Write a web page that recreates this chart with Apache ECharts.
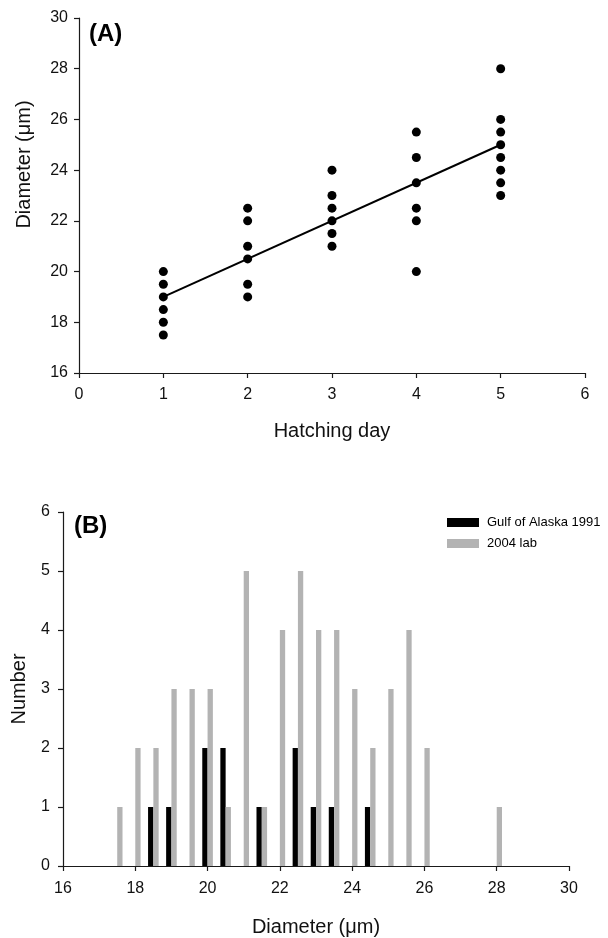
<!DOCTYPE html>
<html>
<head>
<meta charset="utf-8">
<script src="https://cdn.jsdelivr.net/npm/echarts@6/dist/echarts.min.js"></script>
<style>
html,body{margin:0;padding:0;background:#fff;}
#chart{width:608px;height:938px;}
</style>
</head>
<body>
<div id="chart"></div>
<script>
// Panel A data
var hatchDays = [1, 2, 3, 4, 5];
var diametersByDay = [
  [20, 19.5, 19, 18.5, 18, 17.5],
  [22.5, 22, 21, 20.5, 19.5, 19],
  [24, 23, 22.5, 22, 21.5, 21],
  [25.5, 24.5, 23.5, 22.5, 22, 20],
  [28, 26, 25.5, 25, 24.5, 24, 23.5, 23]
];
var fitDays = [1, 5];
var fitDiameters = [19, 25];

// Panel B data
var gulfBins = [18.5, 19, 20, 20.5, 21.5, 22.5, 23, 23.5, 24.5];
var gulfCounts = [1, 1, 2, 2, 1, 2, 1, 1, 1];
var labBins = [17.5, 18, 18.5, 19, 19.5, 20, 20.5, 21, 21.5, 22, 22.5, 23, 23.5, 24, 24.5, 25, 25.5, 26, 28];
var labCounts = [1, 2, 2, 3, 3, 3, 1, 5, 1, 4, 5, 4, 4, 3, 2, 3, 4, 2, 1];

var scatterData = [];
hatchDays.forEach(function (d, i) {
  diametersByDay[i].forEach(function (v) { scatterData.push([d, v]); });
});
var fitData = fitDays.map(function (d, i) { return [d, fitDiameters[i]]; });
var gulfData = gulfBins.map(function (b, i) { return [b, gulfCounts[i]]; });
var labData = labBins.map(function (b, i) { return [b, labCounts[i]]; });

var FONT = '"Liberation Sans", Arial, sans-serif';
var axisColor = '#1a1a1a';

function axisCommon() {
  return {
    axisLine: { show: true, onZero: false, lineStyle: { color: axisColor, width: 1.2 } },
    axisTick: { show: true, inside: false, length: 5, lineStyle: { color: axisColor, width: 1.2 } },
    splitLine: { show: false },
    axisLabel: { color: '#111', fontFamily: FONT, fontSize: 16 },
    nameTextStyle: { color: '#111', fontFamily: FONT, fontSize: 20 }
  };
}

function mk(extra) {
  var o = axisCommon();
  for (var k in extra) {
    if (typeof extra[k] === 'object' && o[k] && !Array.isArray(extra[k])) {
      for (var j in extra[k]) o[k][j] = extra[k][j];
    } else {
      o[k] = extra[k];
    }
  }
  return o;
}

var chart = echarts.init(document.getElementById('chart'), null, { renderer: 'canvas' });
chart.setOption({
  animation: false,
  backgroundColor: '#fff',
  title: [
    { text: '(A)', left: 89, top: 22, padding: 0,
      textStyle: { fontFamily: FONT, fontWeight: 'bold', fontSize: 24, color: '#000' } },
    { text: '(B)', left: 74, top: 514, padding: 0,
      textStyle: { fontFamily: FONT, fontWeight: 'bold', fontSize: 24, color: '#000' } }
  ],
  legend: {
    data: ['Gulf of Alaska 1991', '2004 lab'],
    orient: 'vertical',
    left: 447, top: 516,
    padding: 0,
    itemWidth: 32, itemHeight: 9, itemGap: 8,
    icon: 'rect',
    textStyle: { fontFamily: FONT, fontSize: 13, color: '#000', padding: [0, 0, 0, 3] }
  },
  grid: [
    { left: 79, right: 23, top: 18, height: 355 },
    { left: 63, right: 39, top: 512, height: 354 }
  ],
  xAxis: [
    mk({ gridIndex: 0, type: 'value', min: 0, max: 6, interval: 1,
      name: 'Hatching day', nameLocation: 'middle', nameGap: 48,
      axisLabel: { margin: 14 } }),
    mk({ gridIndex: 1, type: 'value', min: 16, max: 30, interval: 2,
      name: 'Diameter (\u03bcm)', nameLocation: 'middle', nameGap: 51,
      axisLabel: { margin: 15 } })
  ],
  yAxis: [
    mk({ gridIndex: 0, type: 'value', min: 16, max: 30, interval: 2,
      name: 'Diameter (\u03bcm)', nameLocation: 'middle', nameGap: 45,
      nameTextStyle: { padding: [0, 0, 0, 62] },
      axisLabel: { margin: 11 } }),
    mk({ gridIndex: 1, type: 'value', min: 0, max: 6, interval: 1,
      name: 'Number', nameLocation: 'middle', nameGap: 34,
      axisLabel: { margin: 13 } })
  ],
  series: [
    {
      name: 'fit', type: 'line', xAxisIndex: 0, yAxisIndex: 0,
      data: fitData, showSymbol: false, symbol: 'none',
      lineStyle: { color: '#000', width: 2 }, silent: true, z: 2
    },
    {
      name: 'points', type: 'scatter', xAxisIndex: 0, yAxisIndex: 0,
      data: scatterData, symbol: 'circle', symbolSize: 9,
      itemStyle: { color: '#000', opacity: 1 }, z: 3
    },
    {
      name: 'Gulf of Alaska 1991', type: 'bar', xAxisIndex: 1, yAxisIndex: 1,
      data: gulfData, barWidth: 5.3, barGap: '0%',
      itemStyle: { color: '#000' }
    },
    {
      name: '2004 lab', type: 'bar', xAxisIndex: 1, yAxisIndex: 1,
      data: labData, barWidth: 5.3, barGap: '0%',
      itemStyle: { color: '#b3b3b3' }
    }
  ]
});
</script>
</body>
</html>
